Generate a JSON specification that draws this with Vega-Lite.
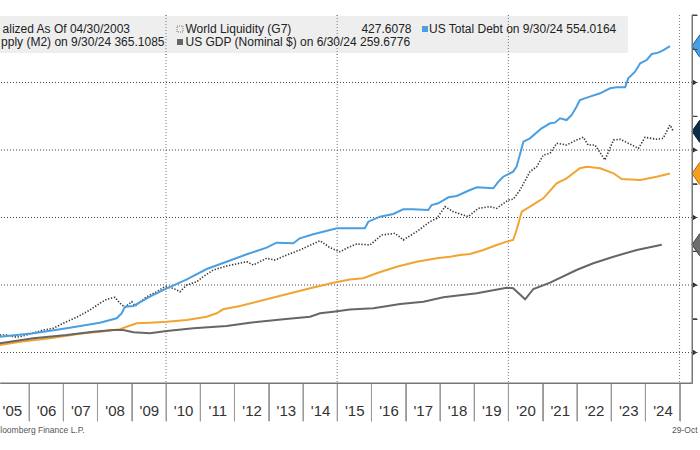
{
  "$schema": "https://vega.github.io/schema/vega-lite/v6.json",
  "autosize": {"type": "none"},
  "width": 692,
  "height": 368,
  "padding": {"left": 0, "top": 15, "right": 8, "bottom": 67},
  "background": "white",
  "resolve": {"axis": {"x": "independent", "y": "independent"}},
  "config": {
    "view": {"stroke": null},
    "font": "Liberation Sans",
    "axisX": {"ticks": true, "tickSize": 38, "tickColor": "#9a9a9a", "tickWidth": 1, "domain": true, "domainColor": "#777777", "domainWidth": 1,
      "grid": false, "labelFont": "Liberation Sans", "labelFontSize": 15, "labelColor": "#333333", "labelPadding": -10.5,
      "labelBaseline": "middle", "labelAlign": "center", "labelFlush": false, "labelOverlap": false, "labelBound": false, "labelOffset": -17.12},
    "axisY": {"ticks": true, "tickSize": 5, "tickColor": "#444444", "domain": true, "domainColor": "#777777", "domainWidth": 1, "grid": false, "labels": false}
  },
  "datasets": {
    "series": [
      {"series": "M2", "t": 2005.15, "v": 111.1},
      {"series": "M2", "t": 2005.74, "v": 116.0},
      {"series": "M2", "t": 2006.61, "v": 121.0},
      {"series": "M2", "t": 2007.59, "v": 128.4},
      {"series": "M2", "t": 2008.07, "v": 130.8},
      {"series": "M2", "t": 2008.66, "v": 134.4},
      {"series": "M2", "t": 2008.85, "v": 138.2},
      {"series": "M2", "t": 2009.15, "v": 143.3},
      {"series": "M2", "t": 2009.53, "v": 144.1},
      {"series": "M2", "t": 2010.02, "v": 145.6},
      {"series": "M2", "t": 2010.61, "v": 148.1},
      {"series": "M2", "t": 2011.19, "v": 153.0},
      {"series": "M2", "t": 2011.48, "v": 158.1},
      {"series": "M2", "t": 2011.67, "v": 164.0},
      {"series": "M2", "t": 2012.16, "v": 168.9},
      {"series": "M2", "t": 2012.74, "v": 176.3},
      {"series": "M2", "t": 2013.43, "v": 185.2},
      {"series": "M2", "t": 2014.21, "v": 195.1},
      {"series": "M2", "t": 2014.89, "v": 203.4},
      {"series": "M2", "t": 2015.37, "v": 208.0},
      {"series": "M2", "t": 2015.76, "v": 209.9},
      {"series": "M2", "t": 2016.15, "v": 217.3},
      {"series": "M2", "t": 2016.74, "v": 227.1},
      {"series": "M2", "t": 2017.32, "v": 234.5},
      {"series": "M2", "t": 2017.91, "v": 239.6},
      {"series": "M2", "t": 2018.30, "v": 241.9},
      {"series": "M2", "t": 2018.59, "v": 244.4},
      {"series": "M2", "t": 2018.88, "v": 245.9},
      {"series": "M2", "t": 2019.27, "v": 251.9},
      {"series": "M2", "t": 2019.66, "v": 259.3},
      {"series": "M2", "t": 2019.95, "v": 264.2},
      {"series": "M2", "t": 2020.14, "v": 266.7},
      {"series": "M2", "t": 2020.24, "v": 281.5},
      {"series": "M2", "t": 2020.39, "v": 308.6},
      {"series": "M2", "t": 2020.63, "v": 316.0},
      {"series": "M2", "t": 2021.02, "v": 328.4},
      {"series": "M2", "t": 2021.41, "v": 350.7},
      {"series": "M2", "t": 2021.70, "v": 358.1},
      {"series": "M2", "t": 2022.09, "v": 372.9},
      {"series": "M2", "t": 2022.29, "v": 375.3},
      {"series": "M2", "t": 2022.68, "v": 372.9},
      {"series": "M2", "t": 2023.07, "v": 365.5},
      {"series": "M2", "t": 2023.31, "v": 357.0},
      {"series": "M2", "t": 2023.85, "v": 355.6},
      {"series": "M2", "t": 2024.33, "v": 360.4},
      {"series": "M2", "t": 2024.72, "v": 365.1},

      {"series": "GDP", "t": 2005.15, "v": 113.6},
      {"series": "GDP", "t": 2006.13, "v": 121.0},
      {"series": "GDP", "t": 2007.10, "v": 125.9},
      {"series": "GDP", "t": 2007.88, "v": 130.8},
      {"series": "GDP", "t": 2008.46, "v": 133.3},
      {"series": "GDP", "t": 2008.75, "v": 133.3},
      {"series": "GDP", "t": 2009.05, "v": 129.9},
      {"series": "GDP", "t": 2009.53, "v": 128.4},
      {"series": "GDP", "t": 2010.02, "v": 131.9},
      {"series": "GDP", "t": 2010.80, "v": 135.9},
      {"series": "GDP", "t": 2011.77, "v": 139.3},
      {"series": "GDP", "t": 2012.45, "v": 144.1},
      {"series": "GDP", "t": 2013.43, "v": 149.2},
      {"series": "GDP", "t": 2014.21, "v": 153.0},
      {"series": "GDP", "t": 2014.50, "v": 158.1},
      {"series": "GDP", "t": 2014.89, "v": 160.4},
      {"series": "GDP", "t": 2015.37, "v": 163.6},
      {"series": "GDP", "t": 2016.06, "v": 165.5},
      {"series": "GDP", "t": 2016.84, "v": 171.9},
      {"series": "GDP", "t": 2017.52, "v": 175.3},
      {"series": "GDP", "t": 2018.10, "v": 181.8},
      {"series": "GDP", "t": 2019.08, "v": 187.7},
      {"series": "GDP", "t": 2019.95, "v": 196.0},
      {"series": "GDP", "t": 2020.14, "v": 195.1},
      {"series": "GDP", "t": 2020.49, "v": 178.8},
      {"series": "GDP", "t": 2020.73, "v": 194.1},
      {"series": "GDP", "t": 2021.22, "v": 203.4},
      {"series": "GDP", "t": 2021.99, "v": 222.2},
      {"series": "GDP", "t": 2022.48, "v": 232.2},
      {"series": "GDP", "t": 2023.07, "v": 241.9},
      {"series": "GDP", "t": 2023.75, "v": 251.9},
      {"series": "GDP", "t": 2024.48, "v": 259.7},

      {"series": "WL", "t": 2005.15, "v": 125.9},
      {"series": "WL", "t": 2005.35, "v": 125.9},
      {"series": "WL", "t": 2005.64, "v": 122.5},
      {"series": "WL", "t": 2005.93, "v": 125.9},
      {"series": "WL", "t": 2006.42, "v": 133.3},
      {"series": "WL", "t": 2006.71, "v": 135.9},
      {"series": "WL", "t": 2007.00, "v": 143.3},
      {"series": "WL", "t": 2007.39, "v": 152.1},
      {"series": "WL", "t": 2007.78, "v": 163.0},
      {"series": "WL", "t": 2008.07, "v": 172.9},
      {"series": "WL", "t": 2008.27, "v": 178.8},
      {"series": "WL", "t": 2008.51, "v": 181.8},
      {"series": "WL", "t": 2008.66, "v": 172.9},
      {"series": "WL", "t": 2008.80, "v": 167.0},
      {"series": "WL", "t": 2009.00, "v": 175.3},
      {"series": "WL", "t": 2009.10, "v": 168.9},
      {"series": "WL", "t": 2009.44, "v": 182.7},
      {"series": "WL", "t": 2009.73, "v": 190.1},
      {"series": "WL", "t": 2009.97, "v": 197.5},
      {"series": "WL", "t": 2010.21, "v": 195.1},
      {"series": "WL", "t": 2010.41, "v": 190.1},
      {"series": "WL", "t": 2010.61, "v": 200.0},
      {"series": "WL", "t": 2010.90, "v": 204.9},
      {"series": "WL", "t": 2011.09, "v": 212.3},
      {"series": "WL", "t": 2011.38, "v": 222.2},
      {"series": "WL", "t": 2011.77, "v": 228.1},
      {"series": "WL", "t": 2012.36, "v": 234.5},
      {"series": "WL", "t": 2012.55, "v": 229.6},
      {"series": "WL", "t": 2012.94, "v": 239.6},
      {"series": "WL", "t": 2013.18, "v": 237.0},
      {"series": "WL", "t": 2013.53, "v": 244.4},
      {"series": "WL", "t": 2013.91, "v": 251.9},
      {"series": "WL", "t": 2014.50, "v": 265.6},
      {"series": "WL", "t": 2014.79, "v": 255.3},
      {"series": "WL", "t": 2015.08, "v": 249.3},
      {"series": "WL", "t": 2015.33, "v": 255.9},
      {"series": "WL", "t": 2015.57, "v": 260.7},
      {"series": "WL", "t": 2015.96, "v": 259.3},
      {"series": "WL", "t": 2016.30, "v": 274.1},
      {"series": "WL", "t": 2016.69, "v": 276.6},
      {"series": "WL", "t": 2016.93, "v": 266.7},
      {"series": "WL", "t": 2017.32, "v": 279.0},
      {"series": "WL", "t": 2017.71, "v": 293.8},
      {"series": "WL", "t": 2017.91, "v": 298.8},
      {"series": "WL", "t": 2018.15, "v": 316.0},
      {"series": "WL", "t": 2018.39, "v": 308.6},
      {"series": "WL", "t": 2018.83, "v": 301.2},
      {"series": "WL", "t": 2019.12, "v": 313.6},
      {"series": "WL", "t": 2019.46, "v": 316.0},
      {"series": "WL", "t": 2019.66, "v": 313.6},
      {"series": "WL", "t": 2020.00, "v": 325.9},
      {"series": "WL", "t": 2020.14, "v": 327.0},
      {"series": "WL", "t": 2020.34, "v": 340.7},
      {"series": "WL", "t": 2020.63, "v": 367.9},
      {"series": "WL", "t": 2020.83, "v": 375.3},
      {"series": "WL", "t": 2021.02, "v": 392.6},
      {"series": "WL", "t": 2021.22, "v": 395.1},
      {"series": "WL", "t": 2021.41, "v": 409.9},
      {"series": "WL", "t": 2021.70, "v": 407.4},
      {"series": "WL", "t": 2021.99, "v": 414.8},
      {"series": "WL", "t": 2022.19, "v": 418.8},
      {"series": "WL", "t": 2022.33, "v": 407.4},
      {"series": "WL", "t": 2022.53, "v": 407.4},
      {"series": "WL", "t": 2022.82, "v": 385.2},
      {"series": "WL", "t": 2023.07, "v": 414.8},
      {"series": "WL", "t": 2023.26, "v": 415.9},
      {"series": "WL", "t": 2023.55, "v": 408.9},
      {"series": "WL", "t": 2023.80, "v": 402.5},
      {"series": "WL", "t": 2023.99, "v": 418.8},
      {"series": "WL", "t": 2024.33, "v": 415.9},
      {"series": "WL", "t": 2024.52, "v": 417.3},
      {"series": "WL", "t": 2024.72, "v": 437.0},
      {"series": "WL", "t": 2024.82, "v": 427.6},

      {"series": "TD", "t": 2005.15, "v": 123.4},
      {"series": "TD", "t": 2006.13, "v": 128.4},
      {"series": "TD", "t": 2007.10, "v": 135.9},
      {"series": "TD", "t": 2008.07, "v": 144.2},
      {"series": "TD", "t": 2008.56, "v": 150.7},
      {"series": "TD", "t": 2008.71, "v": 158.1},
      {"series": "TD", "t": 2008.80, "v": 167.9},
      {"series": "TD", "t": 2009.05, "v": 168.9},
      {"series": "TD", "t": 2009.53, "v": 182.7},
      {"series": "TD", "t": 2010.02, "v": 195.1},
      {"series": "TD", "t": 2010.61, "v": 208.4},
      {"series": "TD", "t": 2011.19, "v": 223.7},
      {"series": "TD", "t": 2011.77, "v": 234.5},
      {"series": "TD", "t": 2012.36, "v": 245.5},
      {"series": "TD", "t": 2012.94, "v": 255.3},
      {"series": "TD", "t": 2013.23, "v": 262.7},
      {"series": "TD", "t": 2013.72, "v": 261.8},
      {"series": "TD", "t": 2013.91, "v": 269.2},
      {"series": "TD", "t": 2014.30, "v": 275.1},
      {"series": "TD", "t": 2014.99, "v": 284.0},
      {"series": "TD", "t": 2015.37, "v": 284.0},
      {"series": "TD", "t": 2015.81, "v": 284.0},
      {"series": "TD", "t": 2015.91, "v": 293.8},
      {"series": "TD", "t": 2016.25, "v": 301.2},
      {"series": "TD", "t": 2016.64, "v": 305.2},
      {"series": "TD", "t": 2016.93, "v": 312.1},
      {"series": "TD", "t": 2017.22, "v": 312.1},
      {"series": "TD", "t": 2017.66, "v": 311.1},
      {"series": "TD", "t": 2017.76, "v": 318.5},
      {"series": "TD", "t": 2017.95, "v": 321.0},
      {"series": "TD", "t": 2018.25, "v": 329.9},
      {"series": "TD", "t": 2018.49, "v": 331.9},
      {"series": "TD", "t": 2018.88, "v": 340.7},
      {"series": "TD", "t": 2019.08, "v": 344.7},
      {"series": "TD", "t": 2019.56, "v": 343.3},
      {"series": "TD", "t": 2019.71, "v": 353.0},
      {"series": "TD", "t": 2019.85, "v": 360.4},
      {"series": "TD", "t": 2020.14, "v": 367.9},
      {"series": "TD", "t": 2020.24, "v": 375.3},
      {"series": "TD", "t": 2020.44, "v": 412.3},
      {"series": "TD", "t": 2020.63, "v": 417.3},
      {"series": "TD", "t": 2020.97, "v": 432.2},
      {"series": "TD", "t": 2021.22, "v": 439.6},
      {"series": "TD", "t": 2021.36, "v": 440.5},
      {"series": "TD", "t": 2021.51, "v": 447.0},
      {"series": "TD", "t": 2021.70, "v": 444.4},
      {"series": "TD", "t": 2021.85, "v": 451.9},
      {"series": "TD", "t": 2021.99, "v": 464.2},
      {"series": "TD", "t": 2022.09, "v": 474.1},
      {"series": "TD", "t": 2022.38, "v": 479.0},
      {"series": "TD", "t": 2022.68, "v": 484.0},
      {"series": "TD", "t": 2022.97, "v": 491.4},
      {"series": "TD", "t": 2023.16, "v": 492.9},
      {"series": "TD", "t": 2023.41, "v": 492.9},
      {"series": "TD", "t": 2023.50, "v": 506.2},
      {"series": "TD", "t": 2023.70, "v": 516.0},
      {"series": "TD", "t": 2023.85, "v": 528.4},
      {"series": "TD", "t": 2024.04, "v": 533.3},
      {"series": "TD", "t": 2024.19, "v": 542.2},
      {"series": "TD", "t": 2024.38, "v": 544.2},
      {"series": "TD", "t": 2024.53, "v": 548.1},
      {"series": "TD", "t": 2024.72, "v": 554.0}
    ],
    "tags": [
      {"series": "TD", "v": 554.0164},
      {"series": "WL", "v": 427.6078},
      {"series": "M2", "v": 365.1085},
      {"series": "GDP", "v": 259.6776}
    ],
    "years": [
      {"t": 2006}, {"t": 2007}, {"t": 2008}, {"t": 2009}, {"t": 2010}, {"t": 2011}, {"t": 2012}, {"t": 2013}, {"t": 2014}, {"t": 2015},
      {"t": 2016}, {"t": 2017}, {"t": 2018}, {"t": 2019}, {"t": 2020}, {"t": 2021}, {"t": 2022}, {"t": 2023}, {"t": 2024}, {"t": 2025}
    ]
  },
  "layer": [
    {
      "data": {"values": [{"t": 2010}, {"t": 2015}, {"t": 2020}, {"t": 2025}]},
      "mark": {"type": "rule", "color": "#777777", "strokeDash": [1, 2], "strokeWidth": 1},
      "encoding": {
        "x": {"field": "t", "type": "quantitative", "title": null, "scale": {"domain": [2005.153, 2025.363], "nice": false, "zero": false},
          "axis": {"orient": "bottom", "values": [2006, 2007, 2008, 2009, 2010, 2011, 2012, 2013, 2014, 2015, 2016, 2017, 2018, 2019, 2020, 2021, 2022, 2023, 2024, 2025],
            "labelExpr": "'\\'' + format(datum.value - 2001, '02d')",
            "labelOffset": -17.12, "ticks": true, "tickSize": 38, "tickColor": "#9a9a9a", "tickWidth": 1,
            "domain": true, "domainColor": "#777777", "domainWidth": 1, "grid": false, "title": null,
            "labels": true, "labelFont": "Liberation Sans", "labelFontSize": 15, "labelColor": "#333333",
            "labelPadding": -10.5, "labelBaseline": "middle", "labelAlign": "center",
            "labelFlush": false, "labelOverlap": false, "labelBound": false, "zindex": 1}}
      }
    },
    {
      "data": {"values": [{"v": 100}, {"v": 200}, {"v": 300}, {"v": 400}, {"v": 500}]},
      "mark": {"type": "rule", "color": "#444444", "strokeDash": [1, 2], "strokeWidth": 1},
      "encoding": {
        "y": {"field": "v", "type": "quantitative", "title": null, "scale": {"domain": [54.8, 600], "nice": false, "zero": false},
          "axis": {"orient": "right", "values": [100, 150, 200, 250, 300, 350, 400, 450, 500, 550, 600],
            "labels": false, "ticks": true, "tickSize": 5, "tickColor": "#444444", "domain": true, "domainColor": "#777777", "domainWidth": 1,
            "grid": false, "title": null, "zindex": 1}}
      }
    },
    {
      "data": {"values": [{}]},
      "mark": {"type": "rect", "color": "#eeeeee"},
      "encoding": {
        "x": {"datum": 2004.9, "type": "quantitative", "scale": {"domain": [2005.153, 2025.363], "nice": false, "zero": false}, "axis": null},
        "x2": {"datum": 2023.49},
        "y": {"datum": 598.5, "type": "quantitative", "scale": {"domain": [54.8, 600], "nice": false, "zero": false}, "axis": null},
        "y2": {"datum": 543.7}
      }
    },
    {
      "data": {"values": [{"t": 2010}, {"t": 2015}, {"t": 2020}]},
      "mark": {"type": "rule", "color": "#777777", "strokeDash": [1, 2], "strokeWidth": 1},
      "encoding": {
        "x": {"field": "t", "type": "quantitative", "scale": {"domain": [2005.153, 2025.363], "nice": false, "zero": false}, "axis": null},
        "y": {"datum": 600, "type": "quantitative", "scale": {"domain": [54.8, 600], "nice": false, "zero": false}, "axis": null},
        "y2": {"datum": 540}
      }
    },
    {
      "data": {"name": "years"},
      "mark": {"type": "rule", "color": "#9a9a9a", "strokeWidth": 1},
      "encoding": {
        "x": {"field": "t", "type": "quantitative", "scale": {"domain": [2005.153, 2025.363], "nice": false, "zero": false}, "axis": null},
        "y": {"datum": 54.8, "type": "quantitative", "scale": {"domain": [54.8, 600], "nice": false, "zero": false}, "axis": null},
        "y2": {"datum": -1.5}
      }
    },
    {
      "data": {"values": [{}]},
      "mark": {"type": "rule", "color": "#777777", "strokeWidth": 1},
      "encoding": {
        "y": {"datum": 54.8, "type": "quantitative", "scale": {"domain": [54.8, 600], "nice": false, "zero": false}, "axis": null}
      }
    },
    {
      "data": {"values": [{}]},
      "mark": {"type": "rule", "color": "#777777", "strokeWidth": 1},
      "encoding": {
        "x": {"datum": 2025.363, "type": "quantitative", "scale": {"domain": [2005.153, 2025.363], "nice": false, "zero": false}, "axis": null}
      }
    },
    {
      "data": {"values": [{"v": 150}, {"v": 250}, {"v": 350}, {"v": 450}, {"v": 550}, {"v": 600}]},
      "mark": {"type": "rule", "color": "#444444", "strokeWidth": 1},
      "encoding": {
        "x": {"datum": 2025.363, "type": "quantitative", "scale": {"domain": [2005.153, 2025.363], "nice": false, "zero": false}, "axis": null},
        "x2": {"datum": 2025.51},
        "y": {"field": "v", "type": "quantitative", "scale": {"domain": [54.8, 600], "nice": false, "zero": false}, "axis": null}
      }
    },
    {
      "data": {"name": "series"},
      "transform": [{"filter": "datum.series === 'M2'"}],
      "mark": {"type": "line", "color": "#f2a431", "strokeWidth": 2, "clip": true},
      "encoding": {
        "x": {"field": "t", "type": "quantitative", "scale": {"domain": [2005.153, 2025.363], "nice": false, "zero": false}, "axis": null},
        "y": {"field": "v", "type": "quantitative", "scale": {"domain": [54.8, 600], "nice": false, "zero": false}, "axis": null}
      }
    },
    {
      "data": {"name": "series"},
      "transform": [{"filter": "datum.series === 'GDP'"}],
      "mark": {"type": "line", "color": "#666666", "strokeWidth": 2, "clip": true},
      "encoding": {
        "x": {"field": "t", "type": "quantitative", "scale": {"domain": [2005.153, 2025.363], "nice": false, "zero": false}, "axis": null},
        "y": {"field": "v", "type": "quantitative", "scale": {"domain": [54.8, 600], "nice": false, "zero": false}, "axis": null}
      }
    },
    {
      "data": {"name": "series"},
      "transform": [{"filter": "datum.series === 'WL'"}],
      "mark": {"type": "line", "color": "#333333", "strokeWidth": 1.6, "strokeDash": [1.3, 1.7], "clip": true},
      "encoding": {
        "x": {"field": "t", "type": "quantitative", "scale": {"domain": [2005.153, 2025.363], "nice": false, "zero": false}, "axis": null},
        "y": {"field": "v", "type": "quantitative", "scale": {"domain": [54.8, 600], "nice": false, "zero": false}, "axis": null}
      }
    },
    {
      "data": {"name": "series"},
      "transform": [{"filter": "datum.series === 'TD'"}],
      "mark": {"type": "line", "color": "#4a9fe2", "strokeWidth": 2, "clip": true},
      "encoding": {
        "x": {"field": "t", "type": "quantitative", "scale": {"domain": [2005.153, 2025.363], "nice": false, "zero": false}, "axis": null},
        "y": {"field": "v", "type": "quantitative", "scale": {"domain": [54.8, 600], "nice": false, "zero": false}, "axis": null}
      }
    },
    {
      "data": {"values": [{"v": 100}, {"v": 200}, {"v": 300}, {"v": 400}, {"v": 500}]},
      "mark": {"type": "point", "shape": "triangle-right", "filled": true, "color": "#222222", "size": 28, "opacity": 1},
      "encoding": {
        "x": {"datum": 2025.45, "type": "quantitative", "scale": {"domain": [2005.153, 2025.363], "nice": false, "zero": false}, "axis": null},
        "y": {"field": "v", "type": "quantitative", "scale": {"domain": [54.8, 600], "nice": false, "zero": false}, "axis": null}
      }
    },
    {
      "data": {"name": "tags"},
      "mark": {"type": "point", "shape": "M-1,0L-0.3,-1L1,-1L1,1L-0.3,1Z", "filled": true, "size": 484, "opacity": 1, "strokeWidth": 1},
      "encoding": {
        "x": {"datum": 2025.684, "type": "quantitative", "scale": {"domain": [2005.153, 2025.363], "nice": false, "zero": false}, "axis": null},
        "y": {"field": "v", "type": "quantitative", "scale": {"domain": [54.8, 600], "nice": false, "zero": false}, "axis": null},
        "fill": {"field": "series", "type": "nominal", "scale": {"domain": ["TD", "WL", "M2", "GDP"], "range": ["#4a9fe2", "#0e2b48", "#f2a021", "#6e6e6e"]}, "legend": null},
        "stroke": {"field": "series", "type": "nominal", "scale": {"domain": ["TD", "WL", "M2", "GDP"], "range": ["#1d5a92", "#0a1c30", "#a86a10", "#3f3f3f"]}, "legend": null}
      }
    },
    {
      "data": {"values": [{}]},
      "mark": {"type": "text", "text": "alized As Of 04/30/2003", "align": "right", "baseline": "middle", "font": "Liberation Sans", "fontSize": 12, "color": "#222222"},
      "encoding": {
        "x": {"datum": 2008.95, "type": "quantitative", "scale": {"domain": [2005.153, 2025.363], "nice": false, "zero": false}, "axis": null},
        "y": {"datum": 579.26, "type": "quantitative", "scale": {"domain": [54.8, 600], "nice": false, "zero": false}, "axis": null}
      }
    },
    {
      "data": {"values": [{}]},
      "mark": {"type": "text", "text": "pply (M2) on 9/30/24 365.1085", "align": "right", "baseline": "middle", "font": "Liberation Sans", "fontSize": 12, "color": "#222222"},
      "encoding": {
        "x": {"datum": 2009.957, "type": "quantitative", "scale": {"domain": [2005.153, 2025.363], "nice": false, "zero": false}, "axis": null},
        "y": {"datum": 560.0, "type": "quantitative", "scale": {"domain": [54.8, 600], "nice": false, "zero": false}, "axis": null}
      }
    },
    {
      "data": {"values": [{}]},
      "mark": {"type": "point", "shape": "square", "filled": false, "color": "#777777", "strokeWidth": 1, "strokeDash": [1, 1], "size": 36, "opacity": 1},
      "encoding": {
        "x": {"datum": 2010.41, "type": "quantitative", "scale": {"domain": [2005.153, 2025.363], "nice": false, "zero": false}, "axis": null},
        "y": {"datum": 579.26, "type": "quantitative", "scale": {"domain": [54.8, 600], "nice": false, "zero": false}, "axis": null}
      }
    },
    {
      "data": {"values": [{}]},
      "mark": {"type": "text", "text": "World Liquidity (G7)", "align": "left", "baseline": "middle", "font": "Liberation Sans", "fontSize": 12, "color": "#222222"},
      "encoding": {
        "x": {"datum": 2010.57, "type": "quantitative", "scale": {"domain": [2005.153, 2025.363], "nice": false, "zero": false}, "axis": null},
        "y": {"datum": 579.26, "type": "quantitative", "scale": {"domain": [54.8, 600], "nice": false, "zero": false}, "axis": null}
      }
    },
    {
      "data": {"values": [{}]},
      "mark": {"type": "text", "text": "427.6078", "align": "right", "baseline": "middle", "font": "Liberation Sans", "fontSize": 12, "color": "#222222"},
      "encoding": {
        "x": {"datum": 2017.171, "type": "quantitative", "scale": {"domain": [2005.153, 2025.363], "nice": false, "zero": false}, "axis": null},
        "y": {"datum": 579.26, "type": "quantitative", "scale": {"domain": [54.8, 600], "nice": false, "zero": false}, "axis": null}
      }
    },
    {
      "data": {"values": [{}]},
      "mark": {"type": "point", "shape": "square", "filled": true, "color": "#666666", "size": 36, "opacity": 1},
      "encoding": {
        "x": {"datum": 2010.41, "type": "quantitative", "scale": {"domain": [2005.153, 2025.363], "nice": false, "zero": false}, "axis": null},
        "y": {"datum": 560.0, "type": "quantitative", "scale": {"domain": [54.8, 600], "nice": false, "zero": false}, "axis": null}
      }
    },
    {
      "data": {"values": [{}]},
      "mark": {"type": "text", "text": "US GDP (Nominal $) on 6/30/24 259.6776", "align": "left", "baseline": "middle", "font": "Liberation Sans", "fontSize": 12, "color": "#222222"},
      "encoding": {
        "x": {"datum": 2010.57, "type": "quantitative", "scale": {"domain": [2005.153, 2025.363], "nice": false, "zero": false}, "axis": null},
        "y": {"datum": 560.0, "type": "quantitative", "scale": {"domain": [54.8, 600], "nice": false, "zero": false}, "axis": null}
      }
    },
    {
      "data": {"values": [{}]},
      "mark": {"type": "point", "shape": "square", "filled": true, "color": "#4a9fe2", "size": 36, "opacity": 1},
      "encoding": {
        "x": {"datum": 2017.565, "type": "quantitative", "scale": {"domain": [2005.153, 2025.363], "nice": false, "zero": false}, "axis": null},
        "y": {"datum": 579.26, "type": "quantitative", "scale": {"domain": [54.8, 600], "nice": false, "zero": false}, "axis": null}
      }
    },
    {
      "data": {"values": [{}]},
      "mark": {"type": "text", "text": "US Total Debt on 9/30/24 554.0164", "align": "left", "baseline": "middle", "font": "Liberation Sans", "fontSize": 12, "color": "#222222"},
      "encoding": {
        "x": {"datum": 2017.682, "type": "quantitative", "scale": {"domain": [2005.153, 2025.363], "nice": false, "zero": false}, "axis": null},
        "y": {"datum": 579.26, "type": "quantitative", "scale": {"domain": [54.8, 600], "nice": false, "zero": false}, "axis": null}
      }
    },
    {
      "data": {"values": [{}]},
      "mark": {"type": "text", "text": "loomberg Finance L.P.", "align": "left", "baseline": "middle", "font": "Liberation Sans", "fontSize": 8.5, "color": "#555555"},
      "encoding": {
        "x": {"datum": 2005.16, "type": "quantitative", "scale": {"domain": [2005.153, 2025.363], "nice": false, "zero": false}, "axis": null},
        "y": {"datum": -14.8, "type": "quantitative", "scale": {"domain": [54.8, 600], "nice": false, "zero": false}, "axis": null}
      }
    },
    {
      "data": {"values": [{}]},
      "mark": {"type": "text", "text": "29-Oct", "align": "left", "baseline": "middle", "font": "Liberation Sans", "fontSize": 8.5, "color": "#555555"},
      "encoding": {
        "x": {"datum": 2024.78, "type": "quantitative", "scale": {"domain": [2005.153, 2025.363], "nice": false, "zero": false}, "axis": null},
        "y": {"datum": -14.8, "type": "quantitative", "scale": {"domain": [54.8, 600], "nice": false, "zero": false}, "axis": null}
      }
    }
  ]
}
